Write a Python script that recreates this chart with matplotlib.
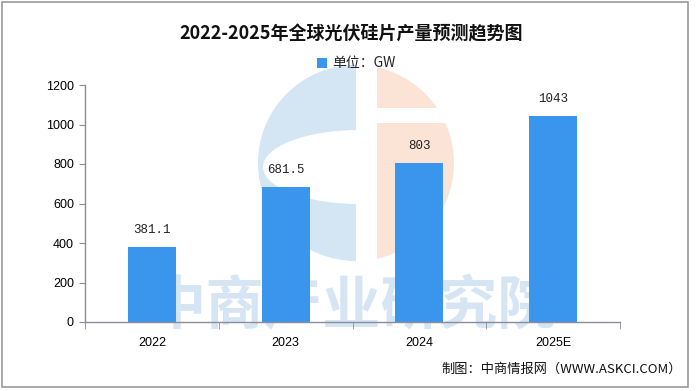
import matplotlib
matplotlib.use("Agg")
import matplotlib.pyplot as plt
from matplotlib.patches import Rectangle, Wedge, Ellipse

plt.rcParams['font.family'] = ['Noto Sans CJK SC', 'DejaVu Sans']

categories = ["2022", "2023", "2024", "2025E"]
values = [381.1, 681.5, 803, 1043]
value_labels = ["381.1", "681.5", "803", "1043"]
yticks = [0, 200, 400, 600, 800, 1000, 1200]

title = "2022-2025年全球光伏硅片产量预测趋势图"
legend_label = "单位：GW"
source = "制图：中商情报网（WWW.ASKCI.COM）"
watermark = "中商产业研究院"

W, H = 699, 391
fig = plt.figure(figsize=(W / 100, H / 100), dpi=100)
fig.patch.set_facecolor("white")

bar_color = "#3a96ec"
axis_color = "#8c8c9c"

# watermark background (behind the chart)
bg = fig.add_axes([0, 0, 1, 1], zorder=0)
bg.set_xlim(0, W)
bg.set_ylim(H, 0)
bg.axis("off")
blue_wm = "#d4e5f3"
peach_wm = "#fbe3d6"
cx, cy, r = 356, 163, 98
bg.add_patch(Wedge((cx, cy), r, 90, 270, facecolor=blue_wm, edgecolor="none"))
bg.add_patch(Ellipse((cx + 3, cy + 4), 192, 74, facecolor="white", edgecolor="none"))
bg.add_patch(Wedge((cx, cy), r, -90, 90, facecolor=peach_wm, edgecolor="none"))
bg.add_patch(Rectangle((cx, cy - r - 2), 21, 2 * r + 4, facecolor="white", edgecolor="none"))
bg.add_patch(Rectangle((cx, 108), r + 4, 15, facecolor="white", edgecolor="none"))
bg.text(352, 307, watermark, ha="center", va="center", fontsize=42, fontweight="bold",
        color="#d6e5f3")
bg.add_patch(Rectangle((2, 2), 686, 385, facecolor="none", edgecolor="#9a9a9a", linewidth=1.2))

ax = fig.add_axes([85 / W, 1 - 322 / H, (620 - 85) / W, (322 - 85) / H], zorder=1)
x = list(range(len(categories)))
bars = ax.bar(x, values, width=0.36, color=bar_color, zorder=2)
ax.set_xlim(-0.5, len(categories) - 0.5)
ax.set_ylim(0, 1200)
ax.set_yticks(yticks)
ax.set_yticklabels([str(v) for v in yticks], fontsize=9, family=["Liberation Sans", "DejaVu Sans"])
ax.set_xticks(x)
ax.set_xticklabels(categories, fontsize=9, family=["Liberation Sans", "DejaVu Sans"])
ax.set_xticks([i - 0.5 for i in range(len(categories) + 1)], minor=True)
ax.tick_params(axis="x", which="major", length=0, pad=11)
ax.tick_params(axis="x", which="minor", length=5, color=axis_color, direction="out")
ax.tick_params(axis="y", length=4, color=axis_color, pad=4)
for s in ["top", "right"]:
    ax.spines[s].set_visible(False)
for s in ["left", "bottom"]:
    ax.spines[s].set_color(axis_color)
    ax.spines[s].set_linewidth(1.0)
ax.patch.set_alpha(0)

for b, lab in zip(bars, value_labels):
    ax.annotate(lab, (b.get_x() + b.get_width() / 2, b.get_height()),
                xytext=(0, 8), textcoords="offset points", ha="center", va="bottom",
                fontsize=9, family=["Liberation Mono", "DejaVu Sans Mono"], color="#222222")

# title, legend, source
fig.text(351 / W, 1 - 34 / H, title, ha="center", va="center", fontsize=13, fontweight="bold", color="#111111")
fig.patches.append(Rectangle((317 / W, 1 - 68 / H), 10 / W, 10 / H, transform=fig.transFigure,
                             facecolor=bar_color, edgecolor="none", zorder=3))
fig.text(332 / W, 1 - 63 / H, legend_label, ha="left", va="center", fontsize=10, color="#222222")
fig.text(682 / W, 1 - 369 / H, source, ha="right", va="center", fontsize=9.5, color="#111111")

fig.savefig("out.png", dpi=100, facecolor="white")
